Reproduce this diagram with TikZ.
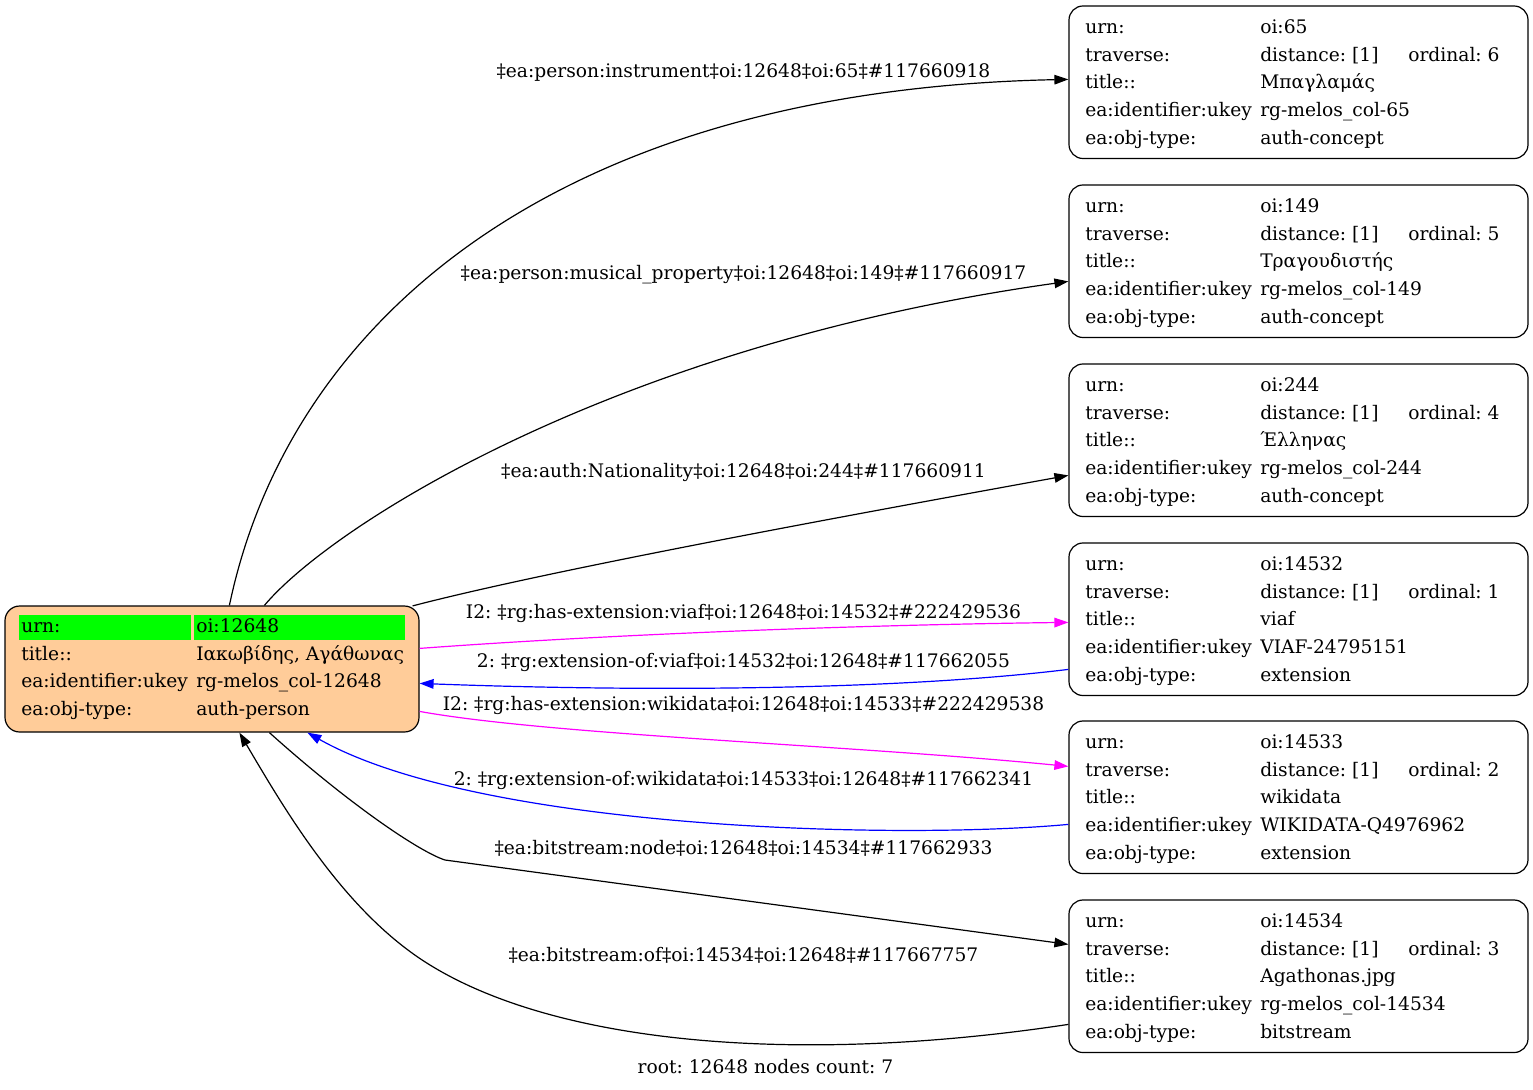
\documentclass[tikz,border=0pt]{standalone}
\usepackage{fontspec}
\setmainfont{DejaVu Serif}
\usetikzlibrary{arrows.meta,calc}
\definecolor{peach}{HTML}{FFCC99}
\definecolor{cellgreen}{HTML}{00FF00}
\definecolor{edgemag}{HTML}{FF00FF}
\definecolor{edgeblue}{HTML}{0000FF}
\newcommand\gvfont{\fontsize{14pt}{16pt}\selectfont\frenchspacing}
\newcommand\rrecord[7]{% name, top, urn, ordinal, title, ukey, type
  \node[rbox] (#1) at (1298.5,#2+76.25) {};
  \node[txt] (#1k1) at (1085,#2+27) {urn:};
  \node[txt] (#1v1) at (1260,#2+27) {#3};
  \node[txt] (#1k2) at (1085,#2+55) {traverse:};
  \node[txt] (#1v2) at (1260,#2+55) {distance: [1]};
  \node[txt] (#1w2) at (1408,#2+55) {ordinal: #4};
  \node[txt] (#1k3) at (1085,#2+82.5) {title::};
  \node[txt] (#1v3) at (1260,#2+82.5) {#5};
  \node[txt] (#1k4) at (1085,#2+110) {ea:identifier:ukey};
  \node[txt] (#1v4) at (1260,#2+110) {#6};
  \node[txt] (#1k5) at (1085,#2+138) {ea:obj-type:};
  \node[txt] (#1v5) at (1260,#2+138) {#7};
}
\begin{document}
\frenchspacing
\begin{tikzpicture}[x=0.75pt,y=-0.75pt,
  txt/.style={inner sep=0pt,anchor=base west,font=\gvfont},
  lbl/.style={inner sep=0pt,anchor=base,font=\gvfont},
  rbox/.style={draw,line width=0.9pt,rounded corners=10.5pt,minimum width=344.25pt,minimum height=114.4pt,inner sep=0pt},
  lbox/.style={draw,line width=0.9pt,rounded corners=11pt,fill=peach,minimum width=310.5pt,minimum height=94.5pt,inner sep=0pt},
  conn/.style={line width=0.9pt,-{Triangle[length=10.5pt,width=7.2pt]}},
  magconn/.style={conn,color=edgemag},
  blueconn/.style={conn,color=edgeblue}]
\useasboundingbox (0,0) rectangle (1533,1089);

% left node
\node[lbox] (L) at (212,669) {};
\fill[cellgreen] (18.5,615) rectangle (190.5,639.5);
\fill[cellgreen] (193.5,615) rectangle (405,639.5);
\node[txt] (Lk1) at (21,632) {urn:};
\node[txt] (Lv1) at (196,632) {oi:12648};
\node[txt] (Lk2) at (21,660) {title::};
\node[txt] (Lv2) at (196,660) {Ιακωβίδης, Αγάθωνας};
\node[txt] (Lk3) at (21,687.5) {ea:identifier:ukey};
\node[txt] (Lv3) at (196,687.5) {rg-melos\_col-12648};
\node[txt] (Lk4) at (21,715) {ea:obj-type:};
\node[txt] (Lv4) at (196,715) {auth-person};

% right nodes
\rrecord{Ra}{6}{oi:65}{6}{Μπαγλαμάς}{rg-melos\_col-65}{auth-concept}
\rrecord{Rb}{185}{oi:149}{5}{Τραγουδιστής}{rg-melos\_col-149}{auth-concept}
\rrecord{Rc}{364}{oi:244}{4}{Έλληνας}{rg-melos\_col-244}{auth-concept}
\rrecord{Rd}{543}{oi:14532}{1}{viaf}{VIAF-24795151}{extension}
\rrecord{Re}{721}{oi:14533}{2}{wikidata}{WIKIDATA-Q4976962}{extension}
\rrecord{Rf}{900}{oi:14534}{3}{Agathonas.jpg}{rg-melos\_col-14534}{bitstream}

% edges
\draw[conn] ($(L.north west)+(225,0)$) .. controls (288,325) and (550,90) .. ($(Ra.north west)+(0,74)$);
\draw[conn] ($(L.north west)+(260,0)$) .. controls (332,525) and (615,345) .. ($(Rb.north west)+(0,97)$);
\draw[conn] ($(L.north east)+(-7,0.5)$) .. controls (550,570) and (850,515) .. ($(Rc.north west)+(0,112)$);
\draw[magconn] ($(L.north east)+(0,43)$) .. controls (600,635) and (850,625) .. ($(Rd.north west)+(0,80)$);
\draw[blueconn] ($(Rd.north west)+(0,127)$) .. controls (900,690) and (650,692) .. ($(L.north east)+(0,78)$);
\draw[magconn] ($(L.north east)+(0,106)$) .. controls (550,735) and (850,745) .. ($(Re.north west)+(0,46)$);
\draw[blueconn] ($(Re.north west)+(0,104)$) .. controls (900,840) and (480,830) .. ($(L.south west)+(303,0)$);
\draw[conn] ($(L.south west)+(265,0)$) .. controls (350,805) and (420,852) .. (445,860) -- ($(Rf.north west)+(0,45)$);
\draw[conn] ($(Rf.north west)+(0,125)$) .. controls (800,1065) and (560,1045) .. (430,965) .. controls (345,913) and (285,810) .. ($(L.south west)+(235,0)$);

% labels
\node[lbl] (la) at (743.5,77) {‡ea:person:instrument‡oi:12648‡oi:65‡\#117660918};
\node[lbl] (lb) at (743.5,279) {‡ea:person:musical\_property‡oi:12648‡oi:149‡\#117660917};
\node[lbl] (lc) at (743.5,477) {‡ea:auth:Nationality‡oi:12648‡oi:244‡\#117660911};
\node[lbl] (ld) at (743.5,618) {I2: ‡rg:has-extension:viaf‡oi:12648‡oi:14532‡\#222429536};
\node[lbl] (le) at (743.5,667) {2: ‡rg:extension-of:viaf‡oi:14532‡oi:12648‡\#117662055};
\node[lbl] (lf) at (743.5,710) {I2: ‡rg:has-extension:wikidata‡oi:12648‡oi:14533‡\#222429538};
\node[lbl] (lg) at (743.5,785) {2: ‡rg:extension-of:wikidata‡oi:14533‡oi:12648‡\#117662341};
\node[lbl] (lh) at (743.5,854) {‡ea:bitstream:node‡oi:12648‡oi:14534‡\#117662933};
\node[lbl] (li) at (743.5,961) {‡ea:bitstream:of‡oi:14534‡oi:12648‡\#117667757};
\node[lbl] (foot) at (765.5,1073) {root: 12648 nodes count: 7};
\end{tikzpicture}
\end{document}
